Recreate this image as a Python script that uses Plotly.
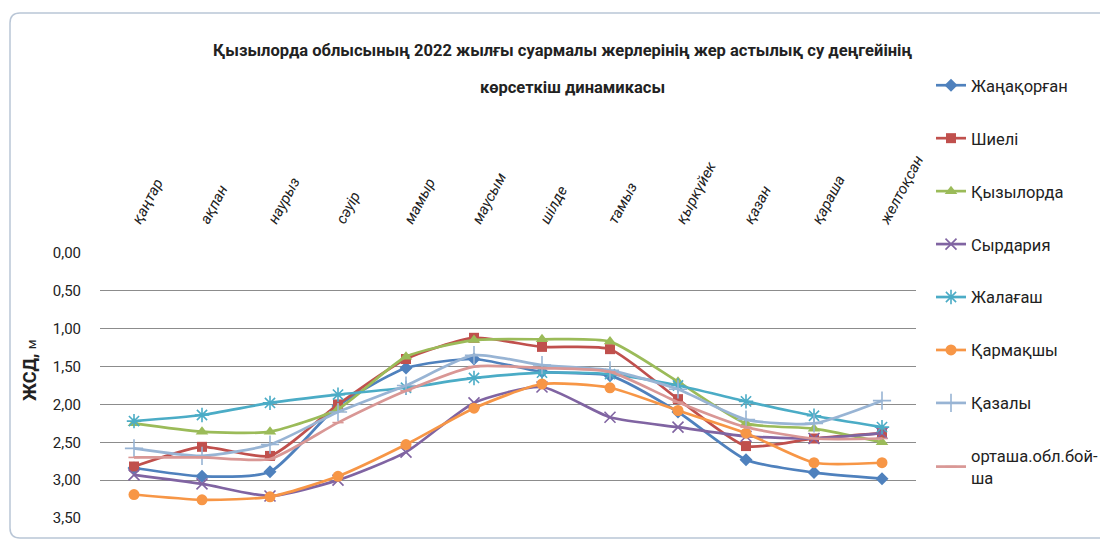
import plotly.graph_objects as go

# Month labels (category axis)
months = ["қаңтар", "ақпан", "наурыз", "сәуір", "мамыр", "маусым",
          "шілде", "тамыз", "қыркүйек", "қазан", "қараша", "желтоқсан"]

# Groundwater depth by district, m
zhanakorgan = [2.84, 2.95, 2.89, 2.02, 1.52, 1.40, 1.57, 1.62, 2.10, 2.73, 2.90, 2.98]
shieli = [2.82, 2.56, 2.68, 2.00, 1.40, 1.12, 1.24, 1.27, 1.93, 2.55, 2.45, 2.38]
kyzylorda = [2.25, 2.36, 2.36, 2.06, 1.37, 1.15, 1.14, 1.17, 1.70, 2.25, 2.32, 2.50]
syrdariya = [2.93, 3.05, 3.21, 3.00, 2.63, 1.98, 1.77, 2.17, 2.30, 2.42, 2.45, 2.38]
zhalagash = [2.22, 2.14, 1.98, 1.87, 1.78, 1.65, 1.58, 1.60, 1.75, 1.96, 2.15, 2.30]
karmakshy = [3.19, 3.26, 3.22, 2.95, 2.53, 2.05, 1.73, 1.78, 2.08, 2.38, 2.77, 2.77]
kazaly = [2.58, 2.68, 2.53, 2.10, 1.75, 1.35, 1.48, 1.55, 1.80, 2.20, 2.25, 1.95]
region_avg = [2.70, 2.70, 2.72, 2.24, 1.82, 1.50, 1.52, 1.57, 1.97, 2.30, 2.45, 2.45]

# Y-axis ticks
y_ticks = [0.0, 0.5, 1.0, 1.5, 2.0, 2.5, 3.0, 3.5]
y_tick_text = ["0,00", "0,50", "1,00", "1,50", "2,00", "2,50", "3,00", "3,50"]

title_line1 = "Қызылорда облысының 2022 жылғы суармалы жерлерінің жер астылық су деңгейінің"
title_line2 = "көрсеткіш динамикасы"
y_title = "<b>ЖСД,</b> <span style='font-size:13px'>м</span>"

series = [
    ("Жаңақорған", zhanakorgan, "#4F81BD", "diamond", 10),
    ("Шиелі", shieli, "#C0504D", "square", 10),
    ("Қызылорда", kyzylorda, "#9BBB59", "triangle-up", 11),
    ("Сырдария", syrdariya, "#8064A2", "x-thin-open", 11),
    ("Жалағаш", zhalagash, "#4BACC6", "asterisk-open", 12),
    ("Қармақшы", karmakshy, "#F79646", "circle", 11),
    ("Қазалы", kazaly, "#98B4D4", "cross-thin-open", 13),
    ("орташа.обл.бой-<br>ша", region_avg, "#D99795", "line-ew-open", 8),
]

W, H = 1100, 543
ML, MR, MT, MB = 100, 184, 253, 25
PW, PH = W - ML - MR, H - MT - MB


def px_x(px):
    return (px - ML) / PW


def px_y(py):
    return (H - MB - py) / PH


fig = go.Figure()
for i, (name, vals, color, symbol, size) in enumerate(series):
    open_sym = symbol.endswith("open")
    fig.add_trace(go.Scatter(
        x=months, y=vals, name=name, mode="lines+markers",
        legendgroup=f"g{i}",
        line=dict(color=color, width=2.7, shape="spline", smoothing=0.6),
        marker=dict(symbol=symbol, size=size, color=color,
                    line=dict(color=color, width=1.6 if open_sym else 0)),
    ))

font_main = "Roboto, Open Sans, sans-serif"

# Rounded outer frame of the chart
x0, x1 = px_x(10), px_x(1110)
y0, y1 = px_y(538), px_y(13)
rx, ry = 10 / PW, 10 / PH
frame = (f"M {x1},{y1} L {x0 + rx},{y1} Q {x0},{y1} {x0},{y1 - ry} "
         f"L {x0},{y0 + ry} Q {x0},{y0} {x0 + rx},{y0} L {x1},{y0}")

fig.update_layout(
    width=W, height=H,
    margin=dict(l=ML, r=MR, t=MT, b=MB, autoexpand=False),
    paper_bgcolor="white", plot_bgcolor="white",
    font=dict(family=font_main, size=14, color="#222"),
    showlegend=True,
    legend=dict(x=px_x(931), y=px_y(68), xanchor="left", yanchor="top",
                traceorder="grouped", tracegroupgap=28.5, maxheight=520,
                font=dict(family=font_main, size=16.5, color="#222"),
                itemwidth=30, bgcolor="rgba(0,0,0,0)"),
    xaxis=dict(side="top", type="category", range=[-0.5, 11.5],
               showgrid=False, zeroline=False, showline=False,
               ticks="", tickangle=-62, ticklabelstandoff=20,
               tickfont=dict(family=font_main, size=15, style="italic", color="#222")),
    yaxis=dict(range=[3.5, 0], tickvals=y_ticks, ticktext=y_tick_text,
               showgrid=True, gridcolor="#8c8c8c", gridwidth=1.3,
               zeroline=False, showline=False, ticks="", ticklabelstandoff=18,
               tickfont=dict(family=font_main, size=15, color="#222")),
    shapes=[dict(type="path", xref="paper", yref="paper", path=frame,
                 line=dict(color="#B9C6D6", width=1.5), layer="below")],
    annotations=[
        dict(text=f"<b>{title_line1}</b>", xref="paper", yref="paper",
             x=px_x(562), y=px_y(50), xanchor="center", yanchor="middle",
             showarrow=False, font=dict(family=font_main, size=16.5, color="#222")),
        dict(text=f"<b>{title_line2}</b>", xref="paper", yref="paper",
             x=px_x(572), y=px_y(88), xanchor="center", yanchor="middle",
             showarrow=False, font=dict(family=font_main, size=16.5, color="#222")),
        dict(text=y_title, xref="paper", yref="paper", textangle=-90,
             x=px_x(29), y=px_y(370), xanchor="center", yanchor="middle",
             showarrow=False, font=dict(family=font_main, size=18, color="#222")),
    ],
)

fig.write_html("out.html")
